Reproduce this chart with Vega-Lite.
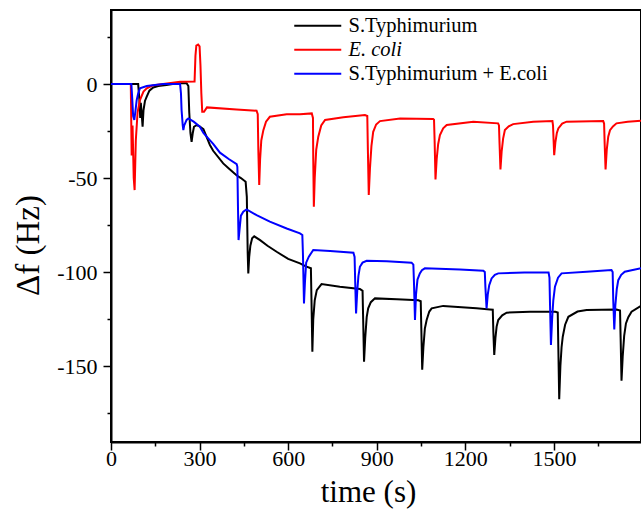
{
  "$schema": "https://vega.github.io/schema/vega-lite/v6.json",
  "width": 530,
  "height": 432,
  "autosize": {"type": "none"},
  "padding": {"left": 111, "top": 10, "right": 0, "bottom": 67},
  "background": "white",
  "config": {
    "font": "Liberation Serif",
    "view": {"stroke": "black", "strokeWidth": 2},
    "axis": {"grid": false, "domainColor": "black", "domainWidth": 2, "tickColor": "black", "tickWidth": 1.5, "labelColor": "black", "labelFont": "Liberation Serif", "labelFontSize": 22, "titleFont": "Liberation Serif", "titleFontSize": 31, "titleFontWeight": "normal", "titleColor": "black"}
  },
  "datasets": {
    "curves": [
      {"t":0,"v":0,"s":"S.Typhimurium"},{"t":92,"v":0,"s":"S.Typhimurium"},{"t":96,"v":-8,"s":"S.Typhimurium"},{"t":99,"v":-18,"s":"S.Typhimurium"},{"t":101,"v":-10,"s":"S.Typhimurium"},{"t":104,"v":-16,"s":"S.Typhimurium"},{"t":107,"v":-22.7,"s":"S.Typhimurium"},{"t":110,"v":-14,"s":"S.Typhimurium"},{"t":115,"v":-9,"s":"S.Typhimurium"},{"t":121,"v":-6.7,"s":"S.Typhimurium"},{"t":130,"v":-3.5,"s":"S.Typhimurium"},{"t":143,"v":-1.8,"s":"S.Typhimurium"},{"t":160,"v":-1,"s":"S.Typhimurium"},{"t":188,"v":-0.5,"s":"S.Typhimurium"},{"t":230,"v":0.5,"s":"S.Typhimurium"},{"t":256,"v":0.5,"s":"S.Typhimurium"},{"t":262,"v":-1,"s":"S.Typhimurium"},{"t":265,"v":-15,"s":"S.Typhimurium"},{"t":269,"v":-26,"s":"S.Typhimurium"},{"t":273,"v":-30.7,"s":"S.Typhimurium"},{"t":277,"v":-26,"s":"S.Typhimurium"},{"t":281,"v":-22.7,"s":"S.Typhimurium"},{"t":290,"v":-21.8,"s":"S.Typhimurium"},{"t":300,"v":-22.5,"s":"S.Typhimurium"},{"t":313,"v":-24,"s":"S.Typhimurium"},{"t":335,"v":-32.4,"s":"S.Typhimurium"},{"t":346,"v":-35.5,"s":"S.Typhimurium"},{"t":380,"v":-42.2,"s":"S.Typhimurium"},{"t":400,"v":-45,"s":"S.Typhimurium"},{"t":425,"v":-48.5,"s":"S.Typhimurium"},{"t":440,"v":-50,"s":"S.Typhimurium"},{"t":456,"v":-52,"s":"S.Typhimurium"},{"t":460,"v":-60,"s":"S.Typhimurium"},{"t":463,"v":-90,"s":"S.Typhimurium"},{"t":465,"v":-100.7,"s":"S.Typhimurium"},{"t":468,"v":-92,"s":"S.Typhimurium"},{"t":472,"v":-86,"s":"S.Typhimurium"},{"t":478,"v":-82,"s":"S.Typhimurium"},{"t":485,"v":-81,"s":"S.Typhimurium"},{"t":505,"v":-83,"s":"S.Typhimurium"},{"t":530,"v":-86,"s":"S.Typhimurium"},{"t":561,"v":-89.2,"s":"S.Typhimurium"},{"t":600,"v":-93,"s":"S.Typhimurium"},{"t":640,"v":-95.4,"s":"S.Typhimurium"},{"t":660,"v":-97,"s":"S.Typhimurium"},{"t":677,"v":-98,"s":"S.Typhimurium"},{"t":679,"v":-115,"s":"S.Typhimurium"},{"t":682,"v":-142.4,"s":"S.Typhimurium"},{"t":685,"v":-125,"s":"S.Typhimurium"},{"t":690,"v":-115,"s":"S.Typhimurium"},{"t":697,"v":-109.6,"s":"S.Typhimurium"},{"t":713,"v":-106.4,"s":"S.Typhimurium"},{"t":775,"v":-107.8,"s":"S.Typhimurium"},{"t":843,"v":-109,"s":"S.Typhimurium"},{"t":852,"v":-110,"s":"S.Typhimurium"},{"t":854,"v":-125,"s":"S.Typhimurium"},{"t":857,"v":-147.7,"s":"S.Typhimurium"},{"t":861,"v":-135,"s":"S.Typhimurium"},{"t":866,"v":-124,"s":"S.Typhimurium"},{"t":871,"v":-119.3,"s":"S.Typhimurium"},{"t":880,"v":-116,"s":"S.Typhimurium"},{"t":894,"v":-114,"s":"S.Typhimurium"},{"t":968,"v":-114.4,"s":"S.Typhimurium"},{"t":1041,"v":-115,"s":"S.Typhimurium"},{"t":1049,"v":-115.5,"s":"S.Typhimurium"},{"t":1051,"v":-130,"s":"S.Typhimurium"},{"t":1054,"v":-152,"s":"S.Typhimurium"},{"t":1058,"v":-140,"s":"S.Typhimurium"},{"t":1063,"v":-130,"s":"S.Typhimurium"},{"t":1069,"v":-125.5,"s":"S.Typhimurium"},{"t":1078,"v":-121,"s":"S.Typhimurium"},{"t":1086,"v":-119.3,"s":"S.Typhimurium"},{"t":1125,"v":-118,"s":"S.Typhimurium"},{"t":1238,"v":-119.3,"s":"S.Typhimurium"},{"t":1283,"v":-119.9,"s":"S.Typhimurium"},{"t":1293,"v":-120,"s":"S.Typhimurium"},{"t":1295,"v":-132,"s":"S.Typhimurium"},{"t":1298,"v":-144.1,"s":"S.Typhimurium"},{"t":1302,"v":-135,"s":"S.Typhimurium"},{"t":1306,"v":-129,"s":"S.Typhimurium"},{"t":1311.5,"v":-125.5,"s":"S.Typhimurium"},{"t":1325,"v":-123,"s":"S.Typhimurium"},{"t":1340,"v":-121.6,"s":"S.Typhimurium"},{"t":1419,"v":-121.1,"s":"S.Typhimurium"},{"t":1505,"v":-121.1,"s":"S.Typhimurium"},{"t":1513,"v":-121.5,"s":"S.Typhimurium"},{"t":1515,"v":-140,"s":"S.Typhimurium"},{"t":1518,"v":-167.7,"s":"S.Typhimurium"},{"t":1522,"v":-150,"s":"S.Typhimurium"},{"t":1526,"v":-140,"s":"S.Typhimurium"},{"t":1530,"v":-134.4,"s":"S.Typhimurium"},{"t":1538,"v":-128,"s":"S.Typhimurium"},{"t":1549,"v":-123.8,"s":"S.Typhimurium"},{"t":1580,"v":-121,"s":"S.Typhimurium"},{"t":1611,"v":-120.2,"s":"S.Typhimurium"},{"t":1712,"v":-119.9,"s":"S.Typhimurium"},{"t":1724,"v":-120.5,"s":"S.Typhimurium"},{"t":1726,"v":-135,"s":"S.Typhimurium"},{"t":1729,"v":-157.8,"s":"S.Typhimurium"},{"t":1733,"v":-145,"s":"S.Typhimurium"},{"t":1738,"v":-134,"s":"S.Typhimurium"},{"t":1744,"v":-127.3,"s":"S.Typhimurium"},{"t":1752,"v":-124,"s":"S.Typhimurium"},{"t":1763,"v":-121.1,"s":"S.Typhimurium"},{"t":1795,"v":-118,"s":"S.Typhimurium"},

      {"t":0,"v":0,"s":"E. coli"},{"t":67,"v":0,"s":"E. coli"},{"t":70,"v":-38,"s":"E. coli"},{"t":73,"v":-22,"s":"E. coli"},{"t":77,"v":-50,"s":"E. coli"},{"t":80,"v":-56.4,"s":"E. coli"},{"t":84,"v":-30,"s":"E. coli"},{"t":90,"v":-15,"s":"E. coli"},{"t":98,"v":-8.5,"s":"E. coli"},{"t":110,"v":-4,"s":"E. coli"},{"t":121,"v":-2.3,"s":"E. coli"},{"t":140,"v":-0.8,"s":"E. coli"},{"t":177,"v":0,"s":"E. coli"},{"t":234,"v":1.2,"s":"E. coli"},{"t":283,"v":1.4,"s":"E. coli"},{"t":286,"v":15,"s":"E. coli"},{"t":289,"v":20.5,"s":"E. coli"},{"t":295,"v":21,"s":"E. coli"},{"t":300,"v":20,"s":"E. coli"},{"t":303,"v":10,"s":"E. coli"},{"t":306,"v":-5,"s":"E. coli"},{"t":309,"v":-14.7,"s":"E. coli"},{"t":315,"v":-14.7,"s":"E. coli"},{"t":325,"v":-12.4,"s":"E. coli"},{"t":425,"v":-13.5,"s":"E. coli"},{"t":493,"v":-14.2,"s":"E. coli"},{"t":497,"v":-16,"s":"E. coli"},{"t":499,"v":-35,"s":"E. coli"},{"t":502,"v":-53.7,"s":"E. coli"},{"t":505,"v":-40,"s":"E. coli"},{"t":509,"v":-30,"s":"E. coli"},{"t":516,"v":-24.5,"s":"E. coli"},{"t":525,"v":-20,"s":"E. coli"},{"t":538,"v":-17.4,"s":"E. coli"},{"t":595,"v":-16,"s":"E. coli"},{"t":640,"v":-16,"s":"E. coli"},{"t":680,"v":-15.6,"s":"E. coli"},{"t":684,"v":-18,"s":"E. coli"},{"t":685,"v":-40,"s":"E. coli"},{"t":687,"v":-65.2,"s":"E. coli"},{"t":690,"v":-50,"s":"E. coli"},{"t":695,"v":-35,"s":"E. coli"},{"t":702,"v":-28,"s":"E. coli"},{"t":712,"v":-22,"s":"E. coli"},{"t":725,"v":-19.1,"s":"E. coli"},{"t":787,"v":-17.7,"s":"E. coli"},{"t":860,"v":-16.5,"s":"E. coli"},{"t":868,"v":-17,"s":"E. coli"},{"t":870,"v":-35,"s":"E. coli"},{"t":873,"v":-59,"s":"E. coli"},{"t":877,"v":-45,"s":"E. coli"},{"t":882,"v":-33,"s":"E. coli"},{"t":888,"v":-25.4,"s":"E. coli"},{"t":898,"v":-21.5,"s":"E. coli"},{"t":911,"v":-19.7,"s":"E. coli"},{"t":979,"v":-18.3,"s":"E. coli"},{"t":1091,"v":-18.6,"s":"E. coli"},{"t":1094,"v":-19,"s":"E. coli"},{"t":1096,"v":-30,"s":"E. coli"},{"t":1099,"v":-50.7,"s":"E. coli"},{"t":1103,"v":-40,"s":"E. coli"},{"t":1108,"v":-32,"s":"E. coli"},{"t":1114,"v":-27.1,"s":"E. coli"},{"t":1125,"v":-23.5,"s":"E. coli"},{"t":1137,"v":-21.8,"s":"E. coli"},{"t":1227,"v":-20,"s":"E. coli"},{"t":1311,"v":-20.9,"s":"E. coli"},{"t":1314,"v":-22,"s":"E. coli"},{"t":1316,"v":-32,"s":"E. coli"},{"t":1319,"v":-45.4,"s":"E. coli"},{"t":1323,"v":-36,"s":"E. coli"},{"t":1328,"v":-29,"s":"E. coli"},{"t":1334,"v":-24.5,"s":"E. coli"},{"t":1347,"v":-22.5,"s":"E. coli"},{"t":1362,"v":-21.3,"s":"E. coli"},{"t":1430,"v":-20,"s":"E. coli"},{"t":1495,"v":-19.7,"s":"E. coli"},{"t":1497,"v":-22,"s":"E. coli"},{"t":1499,"v":-30,"s":"E. coli"},{"t":1501,"v":-37.8,"s":"E. coli"},{"t":1505,"v":-31,"s":"E. coli"},{"t":1510,"v":-26,"s":"E. coli"},{"t":1515,"v":-23.6,"s":"E. coli"},{"t":1528,"v":-21,"s":"E. coli"},{"t":1543,"v":-20,"s":"E. coli"},{"t":1667,"v":-19.7,"s":"E. coli"},{"t":1670,"v":-21,"s":"E. coli"},{"t":1672,"v":-32,"s":"E. coli"},{"t":1675,"v":-45.4,"s":"E. coli"},{"t":1679,"v":-35,"s":"E. coli"},{"t":1684,"v":-28,"s":"E. coli"},{"t":1690,"v":-24.5,"s":"E. coli"},{"t":1700,"v":-22.5,"s":"E. coli"},{"t":1712,"v":-20.9,"s":"E. coli"},{"t":1750,"v":-20,"s":"E. coli"},{"t":1795,"v":-19.5,"s":"E. coli"},

      {"t":0,"v":0,"s":"S.Typhimurium + E.coli"},{"t":69,"v":0,"s":"S.Typhimurium + E.coli"},{"t":72,"v":-8,"s":"S.Typhimurium + E.coli"},{"t":75,"v":-17,"s":"S.Typhimurium + E.coli"},{"t":79,"v":-19.1,"s":"S.Typhimurium + E.coli"},{"t":83,"v":-14,"s":"S.Typhimurium + E.coli"},{"t":87,"v":-8.5,"s":"S.Typhimurium + E.coli"},{"t":92,"v":-5,"s":"S.Typhimurium + E.coli"},{"t":98,"v":-2.3,"s":"S.Typhimurium + E.coli"},{"t":121,"v":-1,"s":"S.Typhimurium + E.coli"},{"t":177,"v":0,"s":"S.Typhimurium + E.coli"},{"t":234,"v":0,"s":"S.Typhimurium + E.coli"},{"t":237,"v":-5,"s":"S.Typhimurium + E.coli"},{"t":239,"v":-13.8,"s":"S.Typhimurium + E.coli"},{"t":243,"v":-22,"s":"S.Typhimurium + E.coli"},{"t":245,"v":-24.5,"s":"S.Typhimurium + E.coli"},{"t":248,"v":-22,"s":"S.Typhimurium + E.coli"},{"t":251,"v":-20.9,"s":"S.Typhimurium + E.coli"},{"t":256,"v":-19.1,"s":"S.Typhimurium + E.coli"},{"t":262,"v":-18.3,"s":"S.Typhimurium + E.coli"},{"t":280,"v":-20,"s":"S.Typhimurium + E.coli"},{"t":301,"v":-22.7,"s":"S.Typhimurium + E.coli"},{"t":313,"v":-26,"s":"S.Typhimurium + E.coli"},{"t":330,"v":-29,"s":"S.Typhimurium + E.coli"},{"t":346,"v":-31.8,"s":"S.Typhimurium + E.coli"},{"t":369,"v":-36.5,"s":"S.Typhimurium + E.coli"},{"t":400,"v":-40,"s":"S.Typhimurium + E.coli"},{"t":425.6,"v":-42.6,"s":"S.Typhimurium + E.coli"},{"t":428,"v":-44,"s":"S.Typhimurium + E.coli"},{"t":430,"v":-65,"s":"S.Typhimurium + E.coli"},{"t":432,"v":-83,"s":"S.Typhimurium + E.coli"},{"t":435,"v":-78,"s":"S.Typhimurium + E.coli"},{"t":440,"v":-70,"s":"S.Typhimurium + E.coli"},{"t":448,"v":-67.9,"s":"S.Typhimurium + E.coli"},{"t":459,"v":-66.7,"s":"S.Typhimurium + E.coli"},{"t":493,"v":-69.7,"s":"S.Typhimurium + E.coli"},{"t":538,"v":-73.2,"s":"S.Typhimurium + E.coli"},{"t":595,"v":-76.8,"s":"S.Typhimurium + E.coli"},{"t":640,"v":-79.4,"s":"S.Typhimurium + E.coli"},{"t":648,"v":-80.3,"s":"S.Typhimurium + E.coli"},{"t":650,"v":-90,"s":"S.Typhimurium + E.coli"},{"t":653.6,"v":-116.7,"s":"S.Typhimurium + E.coli"},{"t":657,"v":-105,"s":"S.Typhimurium + E.coli"},{"t":661,"v":-95,"s":"S.Typhimurium + E.coli"},{"t":670,"v":-91.8,"s":"S.Typhimurium + E.coli"},{"t":685,"v":-88.3,"s":"S.Typhimurium + E.coli"},{"t":742,"v":-88.8,"s":"S.Typhimurium + E.coli"},{"t":821,"v":-89.7,"s":"S.Typhimurium + E.coli"},{"t":825,"v":-92,"s":"S.Typhimurium + E.coli"},{"t":827,"v":-105,"s":"S.Typhimurium + E.coli"},{"t":830,"v":-122,"s":"S.Typhimurium + E.coli"},{"t":834,"v":-110,"s":"S.Typhimurium + E.coli"},{"t":838,"v":-102,"s":"S.Typhimurium + E.coli"},{"t":843,"v":-97.2,"s":"S.Typhimurium + E.coli"},{"t":852,"v":-95,"s":"S.Typhimurium + E.coli"},{"t":866,"v":-94,"s":"S.Typhimurium + E.coli"},{"t":934,"v":-94.3,"s":"S.Typhimurium + E.coli"},{"t":1018,"v":-95,"s":"S.Typhimurium + E.coli"},{"t":1024,"v":-96,"s":"S.Typhimurium + E.coli"},{"t":1026,"v":-105,"s":"S.Typhimurium + E.coli"},{"t":1029.5,"v":-125.5,"s":"S.Typhimurium + E.coli"},{"t":1033,"v":-112,"s":"S.Typhimurium + E.coli"},{"t":1038,"v":-104,"s":"S.Typhimurium + E.coli"},{"t":1046,"v":-100.7,"s":"S.Typhimurium + E.coli"},{"t":1053,"v":-99,"s":"S.Typhimurium + E.coli"},{"t":1063,"v":-98,"s":"S.Typhimurium + E.coli"},{"t":1182,"v":-98.6,"s":"S.Typhimurium + E.coli"},{"t":1261,"v":-99.3,"s":"S.Typhimurium + E.coli"},{"t":1266,"v":-100,"s":"S.Typhimurium + E.coli"},{"t":1268,"v":-108,"s":"S.Typhimurium + E.coli"},{"t":1272,"v":-119.3,"s":"S.Typhimurium + E.coli"},{"t":1276,"v":-112,"s":"S.Typhimurium + E.coli"},{"t":1281,"v":-107,"s":"S.Typhimurium + E.coli"},{"t":1289,"v":-103.4,"s":"S.Typhimurium + E.coli"},{"t":1300,"v":-101.5,"s":"S.Typhimurium + E.coli"},{"t":1311.5,"v":-100.7,"s":"S.Typhimurium + E.coli"},{"t":1400,"v":-100.3,"s":"S.Typhimurium + E.coli"},{"t":1482,"v":-100.3,"s":"S.Typhimurium + E.coli"},{"t":1485,"v":-103,"s":"S.Typhimurium + E.coli"},{"t":1487,"v":-118,"s":"S.Typhimurium + E.coli"},{"t":1490,"v":-138.8,"s":"S.Typhimurium + E.coli"},{"t":1494,"v":-125,"s":"S.Typhimurium + E.coli"},{"t":1498,"v":-115,"s":"S.Typhimurium + E.coli"},{"t":1503.6,"v":-107.8,"s":"S.Typhimurium + E.coli"},{"t":1514,"v":-103,"s":"S.Typhimurium + E.coli"},{"t":1526,"v":-100.7,"s":"S.Typhimurium + E.coli"},{"t":1611,"v":-99.8,"s":"S.Typhimurium + E.coli"},{"t":1695,"v":-98.9,"s":"S.Typhimurium + E.coli"},{"t":1699,"v":-100,"s":"S.Typhimurium + E.coli"},{"t":1701,"v":-115,"s":"S.Typhimurium + E.coli"},{"t":1704.5,"v":-130.5,"s":"S.Typhimurium + E.coli"},{"t":1708,"v":-118,"s":"S.Typhimurium + E.coli"},{"t":1713,"v":-109,"s":"S.Typhimurium + E.coli"},{"t":1718,"v":-104.3,"s":"S.Typhimurium + E.coli"},{"t":1728,"v":-101.5,"s":"S.Typhimurium + E.coli"},{"t":1740,"v":-99.8,"s":"S.Typhimurium + E.coli"},{"t":1795,"v":-98,"s":"S.Typhimurium + E.coli"}
    ]
  },
  "data": {"name": "curves"},
  "mark": {"type": "line", "strokeWidth": 2, "interpolate": "linear"},
  "encoding": {
    "x": {"field": "t", "type": "quantitative", "scale": {"domain": [0, 1795], "nice": false, "zero": false},
      "axis": {"title": "time (s)", "values": [0,150,300,450,600,750,900,1050,1200,1350,1500,1650],
        "labelExpr": "datum.value % 300 === 0 ? datum.value : ''",
        "tickSize": {"condition": {"test": "datum.value % 300 !== 0", "value": 4}, "value": 8},
        "labelPadding": -2, "labelFlush": false, "labelOverlap": false,
        "titleX": 257, "titleY": 59, "titleBaseline": "alphabetic", "titleAlign": "center"}},
    "y": {"field": "v", "type": "quantitative", "scale": {"domain": [-190.4, 39.4], "nice": false, "zero": false},
      "axis": {"title": "Δf (Hz)", "titleFontSize": 33, "values": [25,0,-25,-50,-75,-100,-125,-150,-175],
        "labelExpr": "datum.value % 50 === 0 ? datum.value : ''",
        "tickSize": {"condition": {"test": "datum.value % 50 !== 0", "value": 4}, "value": 8},
        "labelPadding": 6, "labelOverlap": false, "labelFlush": false,
        "titleX": -73, "titleY": 235, "titleBaseline": "alphabetic", "titleAlign": "center", "titleAngle": 270}},
    "color": {"field": "s", "type": "nominal",
      "scale": {"domain": ["S.Typhimurium", "E. coli", "S.Typhimurium + E.coli"], "range": ["#000000", "#ff0000", "#0000ff"]},
      "legend": {"title": null, "orient": "none", "legendX": 196.5, "legendY": 5.5, "padding": 0,
        "symbolType": "M-4.7,0H4.7", "symbolSize": 100, "symbolStrokeWidth": 2,
        "labelFont": "Liberation Serif", "labelFontSize": 20.5, "labelColor": "black", "labelOffset": 20.5, "rowPadding": 3, "labelLimit": 400,
        "encode": {"labels": {"update": {"fontStyle": {"signal": "datum.label === 'E. coli' ? 'italic' : 'normal'"}}}}}},
    "order": {"field": "t", "type": "quantitative"}
  }
}
